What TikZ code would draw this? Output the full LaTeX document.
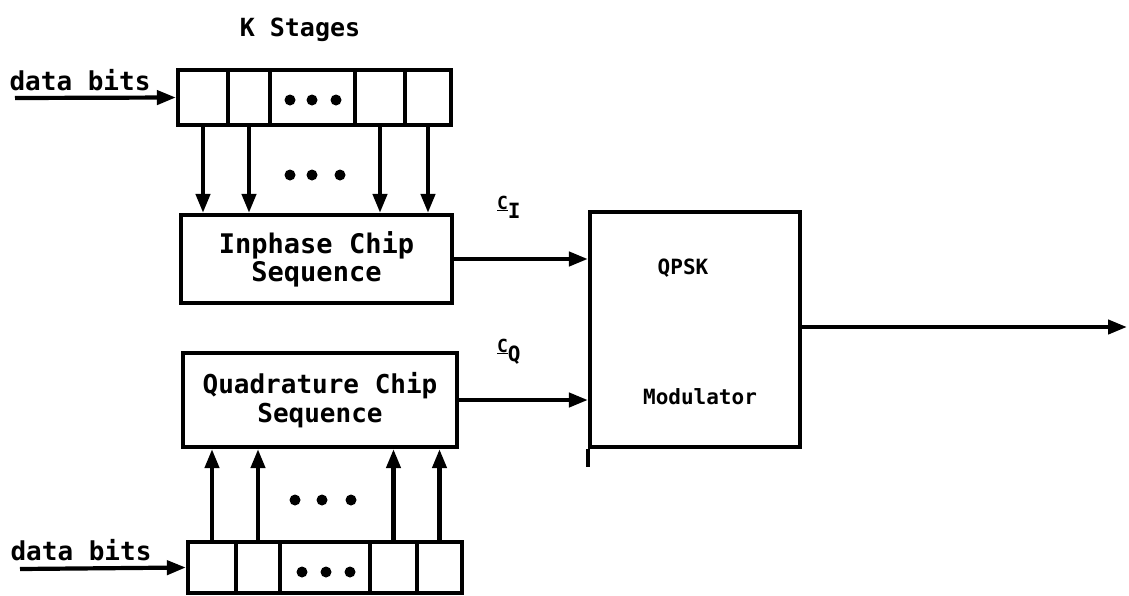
\documentclass[tikz,border=0pt]{standalone}
\usepackage{fontspec}
\setmainfont{DejaVu Sans Mono}
\usetikzlibrary{arrows.meta}
\begin{document}
\begin{tikzpicture}[x=1pt,y=-1pt,line width=4.2pt,
  every node/.style={font=\bfseries\fontsize{25}{28}\selectfont},
  cell/.style={draw,inner sep=0pt},
  box/.style={draw,inner sep=0pt,align=center},
  lbl/.style={inner sep=0pt},
  conn/.style={-{Triangle[length=19pt,width=14pt]}},
  sub/.style={inner sep=0pt,font=\bfseries\fontsize{18}{20}\selectfont}]
\useasboundingbox (0,0) rectangle (1129,595);
% top register
\node[cell,minimum width=50,minimum height=55] (a1) at (203,97.5) {};
\node[cell,minimum width=42,minimum height=55] (a2) at (249,97.5) {};
\node[cell,minimum width=85,minimum height=55] (a3) at (312.5,97.5) {};
\node[cell,minimum width=50,minimum height=55] (a4) at (380,97.5) {};
\node[cell,minimum width=46,minimum height=55] (a5) at (428,97.5) {};
\foreach \x in {290,312,336} \fill (\x,100) circle (5.5);
\node[lbl] (ks) at (300,30) {K Stages};
\node[lbl,font=\bfseries\fontsize{26}{28}\selectfont] (db1) at (80,80) {data bits};
\coordinate (in1) at (15,98);
\draw[conn] (in1) -- (a1.west);
% inphase box
\node[box,minimum width=271,minimum height=88,font=\bfseries\fontsize{27}{28}\selectfont] (ib) at (316.5,259) {Inphase Chip\\Sequence};
\foreach \c in {a1,a2,a4,a5} \draw[conn] (\c.south) -- (\c.south |- ib.north);
\foreach \x in {290,312,340} \fill (\x,175) circle (5.5);
% quadrature box
\node[box,minimum width=274,minimum height=94,font=\bfseries\fontsize{26}{29}\selectfont] (qb) at (320,400) {Quadrature Chip\\Sequence};
% bottom register
\node[cell,minimum width=48,minimum height=51] (b1) at (212,567.5) {};
\node[cell,minimum width=44,minimum height=51] (b2) at (258,567.5) {};
\node[cell,minimum width=90,minimum height=51] (b3) at (325,567.5) {};
\node[cell,minimum width=47,minimum height=51] (b4) at (393.5,567.5) {};
\node[cell,minimum width=45,minimum height=51] (b5) at (439.5,567.5) {};
\foreach \x in {302,326,350} \fill (\x,572) circle (5.5);
\foreach \x in {295,322,351} \fill (\x,500) circle (5.5);
\foreach \c in {b1,b2,b4,b5} \draw[conn] (\c.north) -- (\c.north |- qb.south);
\node[lbl,font=\bfseries\fontsize{26}{28}\selectfont] (db2) at (81,550) {data bits};
\coordinate (in2) at (20,569);
\draw[conn] (in2) -- (b1.west);
% modulator
\node[draw,minimum width=210,minimum height=235] (mod) at (695,329.5) {};
\draw (mod.south west) -- ++(0,18);
\node[lbl,font=\bfseries\fontsize{21}{24}\selectfont] (qp) at (683,268) {QPSK};
\node[lbl,font=\bfseries\fontsize{21}{24}\selectfont] (md) at (700,397) {Modulator};
\draw[conn] (ib.east) -- (ib.east -| mod.west);
\draw[conn] (qb.east) -- (qb.east -| mod.west);
\node[sub,anchor=south west] (ci) at (495,221) {\underline{C}\raisebox{-0.55em}{\fontsize{21}{21}\selectfont I}};
\node[sub,anchor=south west] (cq) at (495,366) {\underline{C}\raisebox{-0.5em}{\fontsize{21}{21}\selectfont Q}};
\coordinate (out) at (1127,327);
\draw[conn] (mod.east |- out) -- (out);
\end{tikzpicture}
\end{document}
